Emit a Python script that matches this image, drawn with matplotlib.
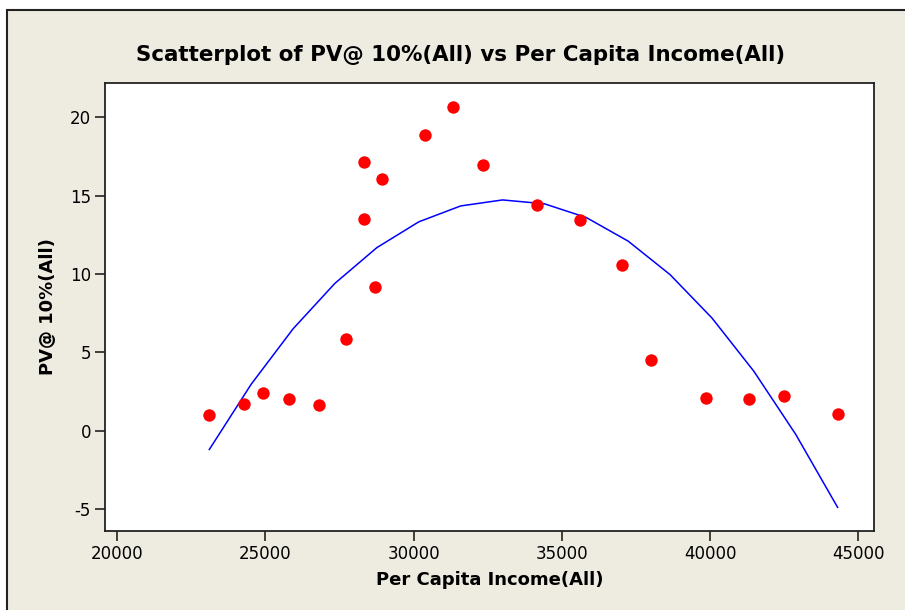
import numpy as np
import matplotlib
matplotlib.use("Agg")
import matplotlib.pyplot as plt
from matplotlib.patches import Rectangle

plt.rcParams["axes.unicode_minus"] = False

# datos
income = [23112, 24292, 24933, 25789, 26797, 27710, 28338, 28338, 28710, 28934,
          30373, 31340, 32350, 34161, 35600, 37037, 38004, 39869, 41298, 42477, 44296]
pv = [1.0, 1.72, 2.43, 2.0, 1.62, 5.86, 17.16, 13.52, 9.18, 16.05,
      18.88, 20.69, 16.95, 14.43, 13.43, 10.58, 4.53, 2.11, 2.0, 2.2, 1.09]
xticks = [20000, 25000, 30000, 35000, 40000, 45000]
yticks = [-5, 0, 5, 10, 15, 20]

W, H = 905, 610
fondo = "#EEEBE1"

fig = plt.figure(figsize=(W / 100, H / 100), dpi=100, facecolor="white")
# marco beige con borde
fig.patches.append(Rectangle((7 / W, -0.05), 1.1, 1 - 10 / H + 0.05, transform=fig.transFigure,
                             facecolor=fondo, edgecolor="#222222", linewidth=1.5, zorder=-1))

ax = fig.add_axes([105 / W, 1 - 531 / H, (874 - 105) / W, (531 - 83) / H])
ax.set_facecolor("white")

# ajuste cuadratico
coef = np.polyfit(income, pv, 2)
xs = np.linspace(min(income), max(income), 16)
ax.plot(xs, np.polyval(coef, xs), color="#0000FF", linewidth=1.1)
ax.scatter(income, pv, s=80, color="#FF0000", zorder=3, linewidths=0)

ax.set_xlim(19595, 45523)
ax.set_ylim(-6.4, 22.19)
ax.set_xticks(xticks)
ax.set_yticks(yticks)
ax.tick_params(direction="out", length=7, width=1.2, labelsize=12, color="#222222", pad=3)
for s in ax.spines.values():
    s.set_linewidth(1.3)
    s.set_color("#222222")

ax.set_xlabel("Per Capita Income(All)", fontsize=13, fontweight="bold", labelpad=6)
ax.set_ylabel("PV@ 10%(All)", fontsize=13, fontweight="bold", labelpad=9)
fig.text(461 / W, 1 - 55 / H, "Scatterplot of PV@ 10%(All) vs Per Capita Income(All)",
         ha="center", va="center", fontsize=15.4, fontweight="bold")

fig.savefig("out.png", dpi=100, facecolor="white")
